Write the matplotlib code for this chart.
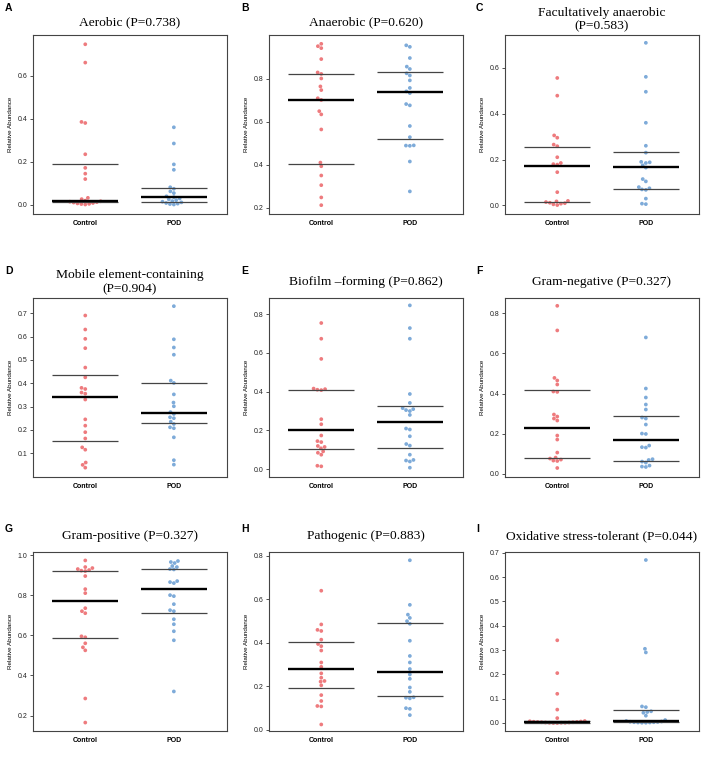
import matplotlib
matplotlib.use("Agg")
import matplotlib.pyplot as plt
import numpy as np
import pandas as pd
import seaborn as sns
import warnings

warnings.filterwarnings("ignore")

groups = ["Control", "POD"]

letters = ["A", "B", "C", "D", "E", "F", "G", "H", "I"]
titles = [
    "Aerobic (P=0.738)",
    "Anaerobic (P=0.620)",
    "Facultatively anaerobic\n(P=0.583)",
    "Mobile element-containing\n(P=0.904)",
    "Biofilm \u2013forming (P=0.862)",
    "Gram-negative (P=0.327)",
    "Gram-positive (P=0.327)",
    "Pathogenic (P=0.883)",
    "Oxidative stress-tolerant (P=0.044)",
]

# relative abundance per sample, Control / POD
aerobic_ctrl = [0.745, 0.66, 0.385, 0.38, 0.235, 0.172, 0.145, 0.12, 0.033, 0.027,
                0.02, 0.017, 0.015, 0.013, 0.011, 0.009, 0.007, 0.005, 0.004, 0.002]
aerobic_pod = [0.36, 0.285, 0.188, 0.163, 0.082, 0.075, 0.063, 0.055, 0.04, 0.036,
               0.03, 0.026, 0.022, 0.018, 0.015, 0.012, 0.009, 0.006, 0.004, 0.002]

anaerobic_ctrl = [0.962, 0.951, 0.942, 0.891, 0.829, 0.822, 0.801, 0.764, 0.747, 0.709,
                  0.701, 0.649, 0.634, 0.564, 0.41, 0.393, 0.35, 0.305, 0.248, 0.212]
anaerobic_pod = [0.955, 0.948, 0.896, 0.856, 0.845, 0.825, 0.815, 0.792, 0.757, 0.741,
                 0.733, 0.682, 0.676, 0.58, 0.528, 0.49, 0.489, 0.488, 0.415, 0.276]

facult_ctrl = [0.555, 0.478, 0.305, 0.295, 0.265, 0.258, 0.21, 0.185, 0.18, 0.178,
               0.145, 0.058, 0.02, 0.018, 0.015, 0.012, 0.01, 0.008, 0.005, 0.002]
facult_pod = [0.708, 0.56, 0.495, 0.36, 0.26, 0.23, 0.19, 0.188, 0.185, 0.175,
              0.165, 0.115, 0.105, 0.08, 0.075, 0.07, 0.068, 0.03, 0.008, 0.006]

mobile_ctrl = [0.69, 0.63, 0.59, 0.55, 0.467, 0.425, 0.38, 0.375, 0.36, 0.355,
               0.33, 0.245, 0.218, 0.19, 0.163, 0.125, 0.115, 0.06, 0.05, 0.038]
mobile_pod = [0.73, 0.588, 0.553, 0.522, 0.411, 0.401, 0.352, 0.317, 0.301, 0.276,
              0.268, 0.254, 0.25, 0.235, 0.225, 0.211, 0.207, 0.168, 0.07, 0.051]

biofilm_ctrl = [0.754, 0.673, 0.569, 0.416, 0.413, 0.41, 0.408, 0.258, 0.232, 0.174,
                0.145, 0.14, 0.12, 0.115, 0.108, 0.092, 0.085, 0.075, 0.018, 0.015]
biofilm_pod = [0.845, 0.728, 0.673, 0.388, 0.342, 0.315, 0.31, 0.305, 0.30, 0.28,
               0.21, 0.205, 0.17, 0.13, 0.122, 0.075, 0.048, 0.045, 0.04, 0.008]

gramneg_ctrl = [0.838, 0.715, 0.478, 0.465, 0.445, 0.41, 0.408, 0.295, 0.285, 0.275,
                0.265, 0.19, 0.17, 0.105, 0.08, 0.075, 0.07, 0.065, 0.063, 0.028]
gramneg_pod = [0.68, 0.425, 0.38, 0.345, 0.32, 0.28, 0.275, 0.245, 0.2, 0.198,
               0.14, 0.132, 0.13, 0.072, 0.068, 0.06, 0.055, 0.04, 0.035, 0.033]

grampos_ctrl = [0.973, 0.94, 0.935, 0.93, 0.925, 0.922, 0.92, 0.895, 0.83, 0.81,
                0.735, 0.72, 0.71, 0.595, 0.59, 0.56, 0.54, 0.525, 0.285, 0.165]
grampos_pod = [0.97, 0.965, 0.96, 0.945, 0.94, 0.93, 0.928, 0.87, 0.865, 0.86,
               0.80, 0.795, 0.755, 0.725, 0.72, 0.68, 0.655, 0.62, 0.575, 0.32]

patho_ctrl = [0.64, 0.485, 0.46, 0.455, 0.415, 0.395, 0.385, 0.365, 0.31, 0.29,
              0.26, 0.24, 0.225, 0.222, 0.205, 0.16, 0.133, 0.11, 0.108, 0.025]
patho_pod = [0.78, 0.575, 0.53, 0.515, 0.50, 0.488, 0.41, 0.34, 0.31, 0.28,
             0.255, 0.235, 0.195, 0.175, 0.15, 0.148, 0.145, 0.1, 0.097, 0.068]

oxid_ctrl = [0.34, 0.205, 0.12, 0.055, 0.02, 0.008, 0.007, 0.006, 0.005, 0.004,
             0.004, 0.003, 0.003, 0.002, 0.002, 0.001, 0.001, 0.001, 0.0, 0.0]
oxid_pod = [0.67, 0.305, 0.29, 0.068, 0.065, 0.048, 0.045, 0.042, 0.03, 0.012,
            0.008, 0.006, 0.005, 0.004, 0.003, 0.003, 0.002, 0.002, 0.001, 0.001]

ctrl_data = [aerobic_ctrl, anaerobic_ctrl, facult_ctrl, mobile_ctrl, biofilm_ctrl,
             gramneg_ctrl, grampos_ctrl, patho_ctrl, oxid_ctrl]
pod_data = [aerobic_pod, anaerobic_pod, facult_pod, mobile_pod, biofilm_pod,
            gramneg_pod, grampos_pod, patho_pod, oxid_pod]

# median and interquartile lines (Control, POD)
medians = [(0.016, 0.036), (0.703, 0.737), (0.174, 0.168), (0.34, 0.273), (0.203, 0.245),
           (0.228, 0.168), (0.772, 0.833), (0.28, 0.268), (0.002, 0.008)]
q1s = [(0.012, 0.015), (0.403, 0.518), (0.016, 0.073), (0.152, 0.228), (0.103, 0.108),
       (0.077, 0.065), (0.585, 0.712), (0.195, 0.155), (0.0, 0.003)]
q3s = [(0.19, 0.078), (0.822, 0.83), (0.256, 0.234), (0.437, 0.401), (0.411, 0.325),
       (0.418, 0.29), (0.922, 0.93), (0.402, 0.492), (0.01, 0.052)]

ylims = [(-0.042, 0.788), (0.171, 1.003), (-0.037, 0.742), (-0.002, 0.765), (-0.04, 0.883),
         (-0.017, 0.877), (0.123, 1.015), (-0.005, 0.818), (-0.033, 0.703)]
yticks = [[0, 0.2, 0.4, 0.6], [0.2, 0.4, 0.6, 0.8], [0, 0.2, 0.4, 0.6],
          [0.1, 0.2, 0.3, 0.4, 0.5, 0.6, 0.7], [0, 0.2, 0.4, 0.6, 0.8],
          [0, 0.2, 0.4, 0.6, 0.8], [0.2, 0.4, 0.6, 0.8, 1.0], [0, 0.2, 0.4, 0.6, 0.8],
          [0, 0.1, 0.2, 0.3, 0.4, 0.5, 0.6, 0.7]]

colors = ["#EE7B7E", "#7EABD9"]

W, H = 708, 757
fig = plt.figure(figsize=(W / 100, H / 100), dpi=100)

col_left = [33, 269, 505]
row_top = [35, 298, 552]
row_bot = [214, 477, 731]
ax_w = 194
title_y = [[22, 22, 19.5], [282, 282, 282], [536, 536, 536]]
letter_y = [8, 271, 529]
letter_x = [5, 241, 476]

for i in range(9):
    r, c = divmod(i, 3)
    ax = fig.add_axes([col_left[c] / W, 1 - row_bot[r] / H, ax_w / W,
                       (row_bot[r] - row_top[r]) / H])
    df = pd.DataFrame({
        "group": ["Control"] * len(ctrl_data[i]) + ["POD"] * len(pod_data[i]),
        "value": ctrl_data[i] + pod_data[i],
    })
    sns.swarmplot(data=df, x="group", y="value", hue="group", order=groups,
                  palette=colors, size=2.7, ax=ax, legend=False, linewidth=0)
    for k in range(2):
        ax.hlines(q1s[i][k], k - 0.37, k + 0.37, color="#444444", lw=0.9, zorder=3)
        ax.hlines(q3s[i][k], k - 0.37, k + 0.37, color="#444444", lw=0.9, zorder=3)
        ax.hlines(medians[i][k], k - 0.37, k + 0.37, color="black", lw=1.7, zorder=4)
    ax.set_xlim(-0.59, 1.6)
    ax.set_ylim(*ylims[i])
    ax.set_yticks(yticks[i])
    ax.set_yticklabels(["%.1f" % t for t in yticks[i]], fontsize=5,
                       family="Liberation Sans", color="#222222")
    ax.set_xticks([0, 1])
    ax.set_xticklabels(groups, fontsize=5, fontweight="bold", family="Liberation Sans")
    ax.tick_params(axis="x", length=0, pad=4)
    ax.tick_params(axis="y", length=2.5, width=0.6, pad=1.5, color="#333333")
    ax.set_xlabel("")
    ax.set_ylabel("Relative Abundance", fontsize=4.5, family="Liberation Sans", labelpad=3)
    for sp in ax.spines.values():
        sp.set_color("#444444")
        sp.set_linewidth(0.8)
    cx = (col_left[c] + ax_w / 2) / W
    fig.text(cx, 1 - title_y[r][c] / H, titles[i], ha="center", va="center",
             fontsize=9.7, family="Liberation Serif", linespacing=1.2)
    fig.text(letter_x[c] / W, 1 - letter_y[r] / H, letters[i], ha="left", va="center",
             fontsize=7.5, fontweight="bold", family="Liberation Sans")

fig.savefig("out.png", dpi=100)
